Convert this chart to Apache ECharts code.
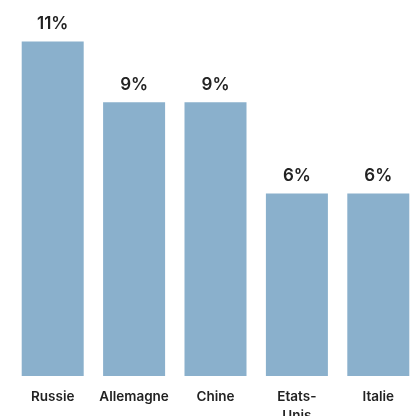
<!DOCTYPE html>
<html>
<head>
<meta charset="utf-8">
<style>
  html, body { margin: 0; padding: 0; background: #ffffff; }
  #chart { width: 413px; height: 416px; }
</style>
<script src="https://cdn.jsdelivr.net/npm/echarts@6/dist/echarts.min.js"></script>
</head>
<body>
<div id="chart"></div>
<script>
// Share by country (%)
const countries = ['Russie', 'Allemagne', 'Chine', 'Etats-Unis', 'Italie'];
const shares = [11, 9, 9, 6, 6];

const chart = echarts.init(document.getElementById('chart'), null, { renderer: 'canvas' });

chart.setOption({
  animation: false,
  grid: { left: 12, width: 407, top: 11, bottom: 40, containLabel: false, outerBoundsMode: 'none' },
  xAxis: {
    type: 'category',
    data: countries,
    axisLine: { show: false },
    axisTick: { show: false },
    axisLabel: {
      interval: 0,
      margin: 11,
      color: '#222222',
      fontFamily: 'Inter',
      fontWeight: 600,
      fontSize: 13.5,
      lineHeight: 19,
      formatter: v => v.replace('-', '-\n')
    }
  },
  yAxis: {
    type: 'value',
    min: 0,
    max: 12,
    show: false,
    splitLine: { show: false }
  },
  series: [{
    type: 'bar',
    data: shares,
    barWidth: 62,
    itemStyle: { color: '#8ab0cc' },
    label: {
      show: true,
      position: 'top',
      distance: 9,
      color: '#222222',
      fontFamily: 'Inter',
      fontWeight: 600,
      fontSize: 17,
      formatter: p => p.value + '%'
    }
  }]
});
</script>
</body>
</html>
